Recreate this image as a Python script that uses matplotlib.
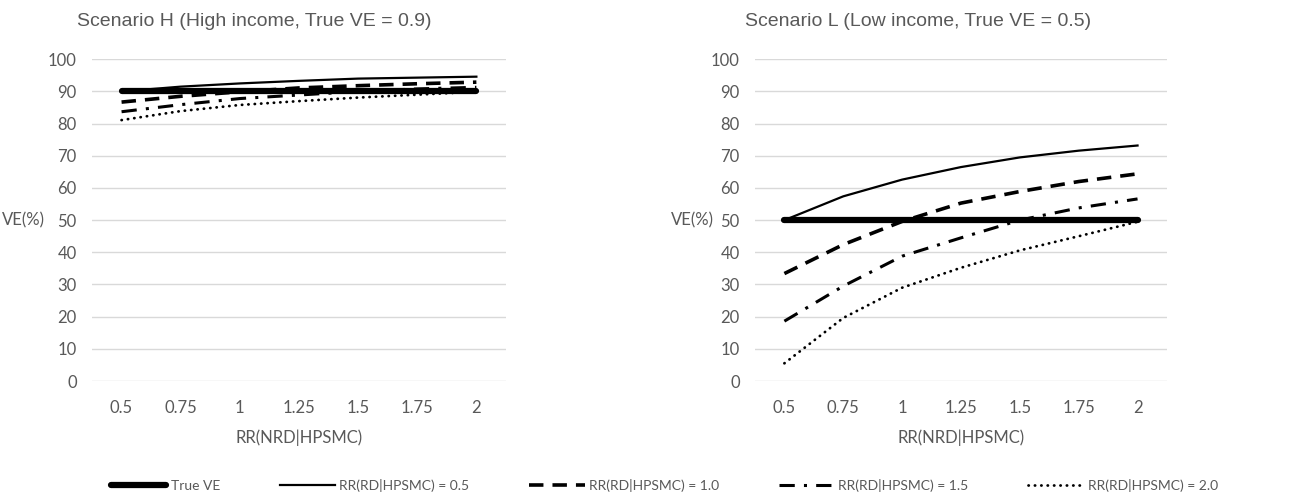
import matplotlib
matplotlib.use('Agg')
import matplotlib.pyplot as plt
from matplotlib.lines import Line2D

# x categories: RR(NRD|HPSMC)
rr_nrd = ['0.5', '0.75', '1', '1.25', '1.5', '1.75', '2']

# Scenario H (true VE = 0.9)
h_true = [90, 90, 90, 90, 90, 90, 90]
h_rr05 = [90, 91.5, 92.5, 93.3, 94.0, 94.3, 94.6]
h_rr10 = [86.7, 88.5, 89.9, 91.1, 91.8, 92.4, 92.9]
h_rr15 = [83.7, 85.9, 87.8, 88.9, 90.0, 90.8, 91.3]
h_rr20 = [81.1, 83.9, 85.8, 87.0, 88.1, 89.0, 89.9]

# Scenario L (true VE = 0.5)
l_true = [50, 50, 50, 50, 50, 50, 50]
l_rr05 = [50, 57.4, 62.6, 66.5, 69.5, 71.6, 73.2]
l_rr10 = [33.4, 42.4, 49.6, 55.3, 58.9, 62.0, 64.4]
l_rr15 = [18.6, 29.5, 38.8, 44.5, 50.0, 53.8, 56.6]
l_rr20 = [5.5, 19.6, 29.0, 35.2, 40.6, 45.0, 49.5]

legend_labels = ['True VE', 'RR(RD|HPSMC) = 0.5', 'RR(RD|HPSMC) = 1.0',
                 'RR(RD|HPSMC) = 1.5', 'RR(RD|HPSMC) = 2.0']

GREY = '#595959'
NARROW = ['Lato', 'DejaVu Sans']

styles = [
    dict(lw=4.5, ls='-', solid_capstyle='round'),
    dict(lw=1.6, ls='-'),
    dict(lw=2.6, ls=(0, (4, 2.5))),
    dict(lw=2.2, ls=(0, (5, 3, 1, 3))),
    dict(lw=2.0, ls=(0, (0.1, 2.2)), dash_capstyle='round'),
]

fig = plt.figure(figsize=(13.03, 5.0), dpi=100)


def panel(rect, series, title, title_x, ylabel_x):
    ax = fig.add_axes(rect)
    x = range(len(rr_nrd))
    for ys, st in zip(series, styles):
        ax.plot(x, ys, color='black', **st)
    ax.set_xlim(-0.5, len(rr_nrd) - 0.5)
    ax.set_ylim(0, 100)
    ax.set_yticks(range(0, 101, 10))
    ax.set_xticks(list(x))
    ax.set_xticklabels(rr_nrd)
    ax.grid(axis='y', color='#d9d9d9', lw=1)
    ax.set_axisbelow(True)
    for s in ax.spines.values():
        s.set_visible(False)
    ax.tick_params(length=0, colors=GREY, labelsize=12)
    ax.tick_params(axis='x', pad=14)
    ax.tick_params(axis='y', pad=11)
    for lab in ax.get_xticklabels() + ax.get_yticklabels():
        lab.set_family(NARROW)
    ax.set_xlabel('RR(NRD|HPSMC)', color=GREY, fontsize=12, family=NARROW, labelpad=9)
    fig.text(title_x, 0.958, title, ha='center', va='center', color=GREY,
             fontsize=14, family='Liberation Sans')
    fig.text(ylabel_x, 1 - 220 / 500, 'VE(%)', ha='center', va='center', color=GREY,
             fontsize=12, family=NARROW)
    return ax


panel([0.0706, 0.238, 0.3177, 0.6434], [h_true, h_rr05, h_rr10, h_rr15, h_rr20],
      'Scenario H (High income, True VE = 0.9)', 254 / 1303, 23 / 1303)
panel([0.5794, 0.238, 0.3162, 0.6434], [l_true, l_rr05, l_rr10, l_rr15, l_rr20],
      'Scenario L (Low income, True VE = 0.5)', 918 / 1303, 692 / 1303)

handles = [Line2D([], [], color='black', **st) for st in styles]
leg = fig.legend(handles, legend_labels, loc='center', bbox_to_anchor=(0.51, 0.03),
                 ncol=5, frameon=False, handlelength=4.0, handletextpad=0.3,
                 columnspacing=4.3, prop={'family': NARROW, 'size': 10})
for t in leg.get_texts():
    t.set_color(GREY)

fig.savefig('out.png', dpi=100)
